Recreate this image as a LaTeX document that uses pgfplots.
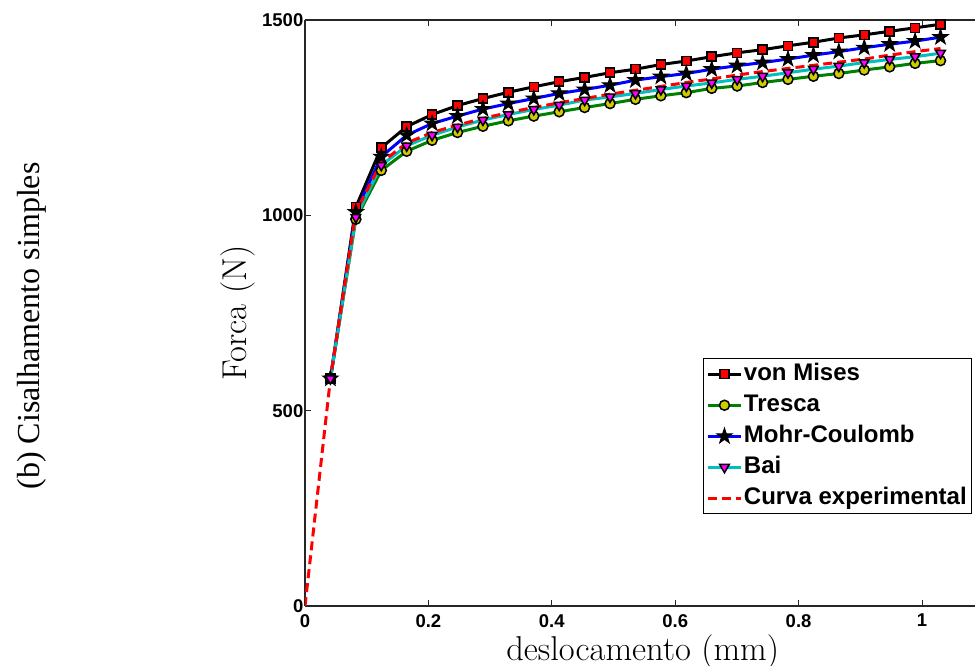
\documentclass[border=0pt]{standalone}
\usepackage{fontspec}
\setsansfont{Liberation Sans}
\newfontfamily\timesfont{Liberation Serif}
\usepackage{pgfplots}
\pgfplotsset{compat=1.18}
\definecolor{mgreen}{rgb}{0,0.5,0}
\definecolor{mcyan}{rgb}{0,0.75,0.75}
\definecolor{myellow}{rgb}{0.8,0.8,0}
\definecolor{mmag}{rgb}{1,0,1}
\pgfdeclareplotmark{fstar}{%
  \pgfpathmoveto{\pgfpointpolar{90}{\pgfplotmarksize}}%
  \pgfpathlineto{\pgfpointpolar{126}{0.382\pgfplotmarksize}}%
  \pgfpathlineto{\pgfpointpolar{162}{\pgfplotmarksize}}%
  \pgfpathlineto{\pgfpointpolar{198}{0.382\pgfplotmarksize}}%
  \pgfpathlineto{\pgfpointpolar{234}{\pgfplotmarksize}}%
  \pgfpathlineto{\pgfpointpolar{270}{0.382\pgfplotmarksize}}%
  \pgfpathlineto{\pgfpointpolar{306}{\pgfplotmarksize}}%
  \pgfpathlineto{\pgfpointpolar{342}{0.382\pgfplotmarksize}}%
  \pgfpathlineto{\pgfpointpolar{18}{\pgfplotmarksize}}%
  \pgfpathlineto{\pgfpointpolar{54}{0.382\pgfplotmarksize}}%
  \pgfpathclose
  \pgfusepathqfillstroke}
\begin{document}
\begin{tikzpicture}
\useasboundingbox (0,0) rectangle (975pt,666pt);
\begin{axis}[
  at={(305pt,60pt)}, anchor=south west,
  scale only axis, width=670pt, height=586pt,
  xmin=0, xmax=1.0859, ymin=0, ymax=1500,
  axis x line=box, axis y line=left,
  axis line style={-, line width=1.2pt, black!85},
  tick align=inside, major tick length=6pt,
  tick style={line width=0.8pt, black!85},
  xtick={0,0.2,0.4,0.6,0.8,1}, xticklabels={0,0.2,0.4,0.6,0.8,1},
  ytick={0,500,1000,1500}, yticklabels={0,500,1000,1500},
  /pgf/number format/assume math mode=true,
  tick label style={font=\sffamily\bfseries\fontsize{18.5}{18.5}\selectfont},
  xticklabel style={inner ysep=2pt, yshift=-6pt},
  yticklabel style={inner xsep=1.5pt},
  xlabel={deslocamento (mm)},
  ylabel={Forca (N)},
  label style={font=\rmfamily\fontsize{34.5}{40}\selectfont},
  xlabel style={at={(axis description cs:0.504,-0.078)}, anchor=center},
  ylabel style={at={(axis description cs:-0.1,0.5)}, anchor=center, rotate=0},
  legend image code/.code={\draw[mark repeat=2,mark phase=2] plot coordinates {(0pt,0pt) (16.5pt,0pt) (33pt,0pt)};},
  legend style={at={(axis description cs:0.594,0.4232)}, anchor=north west,
    draw=black, line width=1pt, fill=white,
    font=\sffamily\bfseries\fontsize{24}{24}\selectfont,
    inner xsep=3pt, inner ysep=3pt, row sep=5.5pt,
    nodes={inner sep=1.5pt, text height=17.5pt, text depth=5pt},
    legend cell align=left},
  every axis plot/.append style={line width=3pt},
]
\addplot[black, mark=square*, mark size=4.5pt, mark options={solid, draw=black, fill=red, line width=1.5pt}] coordinates {
(0.0412,582) (0.0824,1021) (0.1236,1173) (0.1648,1227) (0.2060,1258)
(0.2472,1281) (0.2884,1299) (0.3296,1315) (0.3708,1329) (0.4120,1342)
(0.4532,1353) (0.4944,1365) (0.5356,1374) (0.5768,1386) (0.6180,1395)
(0.6592,1406) (0.7004,1416) (0.7416,1424) (0.7828,1434) (0.8240,1443)
(0.8652,1454) (0.9064,1462) (0.9476,1471) (0.9888,1480) (1.0300,1489)};
\addlegendentry{von Mises}
\addplot[mgreen, mark=*, mark size=5pt, mark options={solid, draw=black, fill=myellow, line width=1.5pt}] coordinates {
(0.0412,582) (0.0824,990) (0.1236,1115) (0.1648,1164) (0.2060,1192)
(0.2472,1212) (0.2884,1228) (0.3296,1242) (0.3708,1254) (0.4120,1265)
(0.4532,1276) (0.4944,1286) (0.5356,1297) (0.5768,1306) (0.6180,1314)
(0.6592,1325) (0.7004,1331) (0.7416,1340) (0.7828,1348) (0.8240,1356)
(0.8652,1363) (0.9064,1372) (0.9476,1380) (0.9888,1389) (1.0300,1396)};
\addlegendentry{Tresca}
\addplot[blue, mark=fstar, mark size=8pt, mark options={solid, draw=black, fill=black, line width=1pt}] coordinates {
(0.0412,582) (0.0824,1008) (0.1236,1150) (0.1648,1205) (0.2060,1235)
(0.2472,1254) (0.2884,1272) (0.3296,1286) (0.3708,1299) (0.4120,1312)
(0.4532,1322) (0.4944,1333) (0.5356,1346) (0.5768,1355) (0.6180,1363)
(0.6592,1374) (0.7004,1383) (0.7416,1391) (0.7828,1400) (0.8240,1410)
(0.8652,1419) (0.9064,1429) (0.9476,1438) (0.9888,1446) (1.0300,1456)};
\addlegendentry{Mohr-Coulomb}
\addplot[mcyan, mark=triangle*, mark size=5.5pt, mark options={solid, rotate=180, draw=black, fill=mmag, line width=1.5pt}] coordinates {
(0.0412,582) (0.0824,995) (0.1236,1128) (0.1648,1178) (0.2060,1205)
(0.2472,1226) (0.2884,1244) (0.3296,1258) (0.3708,1271) (0.4120,1282)
(0.4532,1295) (0.4944,1303) (0.5356,1312) (0.5768,1322) (0.6180,1331)
(0.6592,1339) (0.7004,1348) (0.7416,1356) (0.7828,1365) (0.8240,1374)
(0.8652,1382) (0.9064,1391) (0.9476,1399) (0.9888,1406) (1.0300,1415)};
\addlegendentry{Bai}
\addplot[red, dash pattern=on 9pt off 5pt] coordinates {
(0,0) (0.0412,582) (0.0824,1008) (0.1236,1135) (0.1648,1185) (0.2060,1212)
(0.2472,1231) (0.2884,1248) (0.3296,1263) (0.3708,1276) (0.4120,1288)
(0.4532,1299) (0.4944,1310) (0.5356,1320) (0.5768,1330) (0.6180,1340)
(0.6592,1349) (0.7004,1359) (0.7416,1368) (0.7828,1376) (0.8240,1384)
(0.8652,1392) (0.9064,1400) (0.9476,1410) (0.9888,1419) (1.0300,1427)};
\addlegendentry{Curva experimental}
\end{axis}
\node[rotate=90, anchor=center, font=\timesfont\fontsize{32}{38}\selectfont] at (32pt,340pt) {(b) Cisalhamento simples};
\end{tikzpicture}
\end{document}
